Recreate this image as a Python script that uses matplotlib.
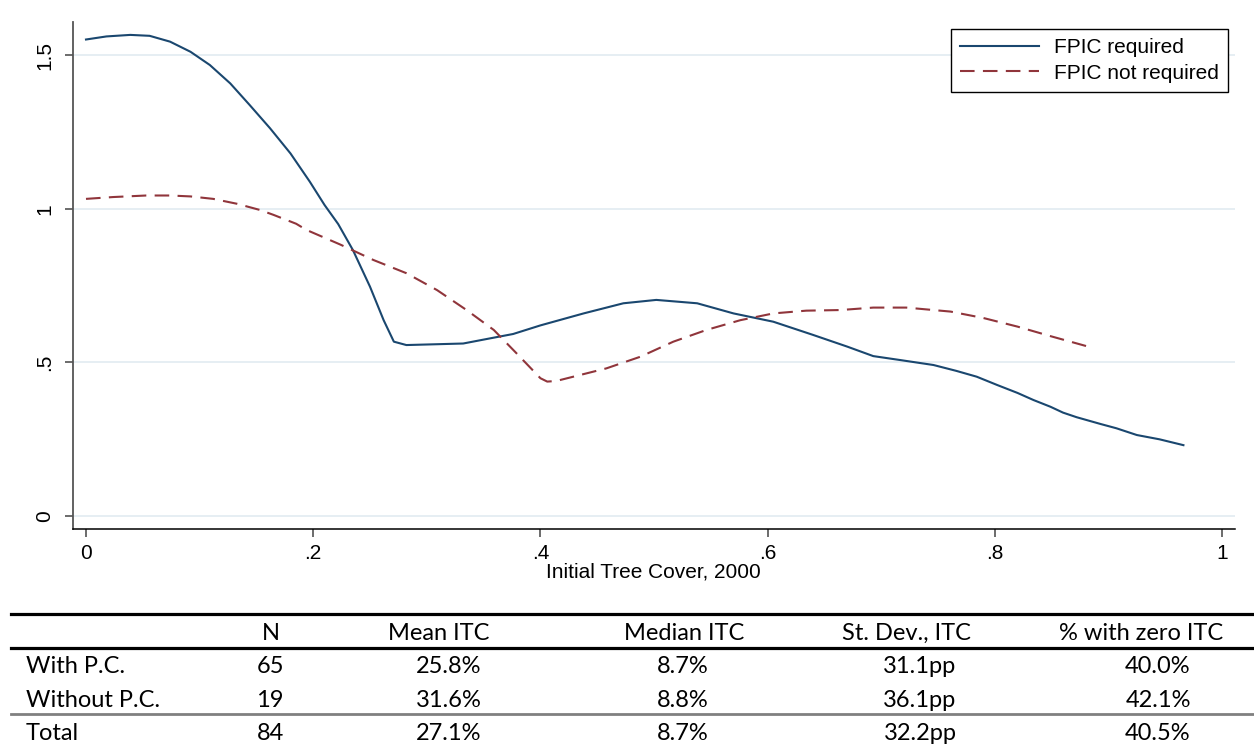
import numpy as np
import matplotlib
matplotlib.use("Agg")
import matplotlib.pyplot as plt
from matplotlib.lines import Line2D

# smoothed deforestation curves by initial tree cover
fpic_x = np.array([0.000, 0.018, 0.039, 0.056, 0.074, 0.092, 0.109, 0.127, 0.144, 0.162,
                   0.180, 0.197, 0.210, 0.222, 0.235, 0.250, 0.262, 0.271, 0.282, 0.312,
                   0.332, 0.356, 0.376, 0.400, 0.438, 0.473, 0.502, 0.538, 0.570, 0.605,
                   0.640, 0.670, 0.693, 0.717, 0.746, 0.766, 0.784, 0.802, 0.820, 0.834,
                   0.849, 0.860, 0.872, 0.893, 0.907, 0.925, 0.945, 0.966])
fpic_y = np.array([1.551, 1.561, 1.566, 1.563, 1.544, 1.511, 1.468, 1.408, 1.338, 1.262,
                   1.180, 1.088, 1.012, 0.950, 0.865, 0.746, 0.637, 0.567, 0.556, 0.559,
                   0.561, 0.578, 0.592, 0.620, 0.659, 0.692, 0.703, 0.692, 0.659, 0.632,
                   0.589, 0.551, 0.520, 0.507, 0.491, 0.472, 0.453, 0.426, 0.400, 0.377,
                   0.355, 0.336, 0.321, 0.299, 0.285, 0.263, 0.249, 0.230])

nofpic_x = np.array([0.000, 0.024, 0.053, 0.074, 0.092, 0.112, 0.133, 0.153, 0.165, 0.185,
                     0.194, 0.224, 0.253, 0.282, 0.309, 0.335, 0.359, 0.379, 0.400, 0.406,
                     0.414, 0.429, 0.458, 0.488, 0.517, 0.546, 0.576, 0.605, 0.634, 0.664,
                     0.693, 0.722, 0.761, 0.790, 0.820, 0.849, 0.886])
nofpic_y = np.array([1.032, 1.038, 1.043, 1.043, 1.040, 1.032, 1.016, 0.996, 0.980, 0.951,
                     0.931, 0.883, 0.833, 0.790, 0.735, 0.670, 0.605, 0.529, 0.448, 0.437,
                     0.439, 0.453, 0.480, 0.518, 0.567, 0.605, 0.637, 0.659, 0.668, 0.670,
                     0.678, 0.678, 0.665, 0.644, 0.616, 0.585, 0.547])

xticks = [0, 0.2, 0.4, 0.6, 0.8, 1]
xtick_labels = ['0', '.2', '.4', '.6', '.8', '1']
yticks = [0, 0.5, 1, 1.5]
ytick_labels = ['0', '.5', '1', '1.5']

# summary table
row_labels = ['With P.C.', 'Without P.C.', 'Total']
col_headers = ['N', 'Mean ITC', 'Median ITC', 'St. Dev., ITC', '% with zero ITC']
n_obs = [65, 19, 84]
mean_itc = [25.8, 31.6, 27.1]
median_itc = [8.7, 8.8, 8.7]
sd_itc = [31.1, 36.1, 32.2]
zero_itc = [40.0, 42.1, 40.5]

W, H = 1254, 746
plot_font = ['Liberation Sans', 'DejaVu Sans']
table_font = ['Lato', 'DejaVu Sans']
navy = '#1A476F'
maroon = '#90353B'

fig = plt.figure(figsize=(W / 100, H / 100), dpi=100)
ax = fig.add_axes([72.7 / W, 1 - 529.3 / H, (1235 - 72.7) / W, (529.3 - 22) / H])

ax.plot(fpic_x, fpic_y, color=navy, lw=1.5, solid_joinstyle='round', label='FPIC required')
ax.plot(nofpic_x, nofpic_y, color=maroon, lw=1.5, dashes=(7, 4), label='FPIC not required')

ax.set_xlim(-0.0117, 1.0114)
ax.set_ylim(-0.044, 1.608)
ax.set_xticks(xticks)
ax.set_xticklabels(xtick_labels, family=plot_font, fontsize=15)
ax.set_yticks(yticks)
ax.set_yticklabels(ytick_labels, family=plot_font, fontsize=15, rotation=90, va='center')
ax.yaxis.grid(True, color='#E6EEF3', lw=1.4)
ax.set_axisbelow(True)

for s in ['top', 'right']:
    ax.spines[s].set_visible(False)
ax.spines['left'].set_color('#555555')
ax.spines['left'].set_linewidth(1.3)
ax.spines['bottom'].set_color('black')
ax.spines['bottom'].set_linewidth(1.1)
ax.tick_params(axis='x', length=5.5, width=1.1, color='#444444', pad=5)
ax.tick_params(axis='y', length=5.5, width=1.1, color='#444444', pad=8)
ax.set_xlabel('Initial Tree Cover, 2000', family=plot_font, fontsize=15, labelpad=0)

leg = ax.legend(loc='upper right', bbox_to_anchor=(1228 / W, 1 - 29 / H),
                bbox_transform=fig.transFigure, borderaxespad=0,
                prop={'family': plot_font, 'size': 15},
                fancybox=False, framealpha=1, edgecolor='black',
                handlelength=3.8, handletextpad=0.7, borderpad=0.45, labelspacing=0.3)
leg.get_frame().set_linewidth(1.0)

# table drawn on a full-figure overlay in pixel units
tab = fig.add_axes([0, 0, 1, 1], facecolor='none')
tab.set_xlim(0, W)
tab.set_ylim(H, 0)
tab.axis('off')

tab.add_line(Line2D([11, W], [614, 614], color='black', lw=2.3))
tab.add_line(Line2D([11, W], [648, 648], color='black', lw=2.3))
tab.add_line(Line2D([11, W], [714, 714], color='#808080', lw=2.0))

header_x = [271, 439, 684, 907, 1141]
value_x = [270, 449, 683, 920, 1158]
row_base = [673, 707, 740]

for hx, h in zip(header_x, col_headers):
    tab.text(hx, 640, h, ha='center', va='baseline', family=table_font, fontsize=17)

cells = [[str(n), f'{m:.1f}%', f'{md:.1f}%', f'{sd:.1f}pp', f'{z:.1f}%']
         for n, m, md, sd, z in zip(n_obs, mean_itc, median_itc, sd_itc, zero_itc)]

for yb, lab, row in zip(row_base, row_labels, cells):
    tab.text(26, yb, lab, ha='left', va='baseline', family=table_font, fontsize=17)
    for vx, v in zip(value_x, row):
        tab.text(vx, yb, v, ha='center', va='baseline', family=table_font, fontsize=17)

fig.savefig('out.png', dpi=100)
